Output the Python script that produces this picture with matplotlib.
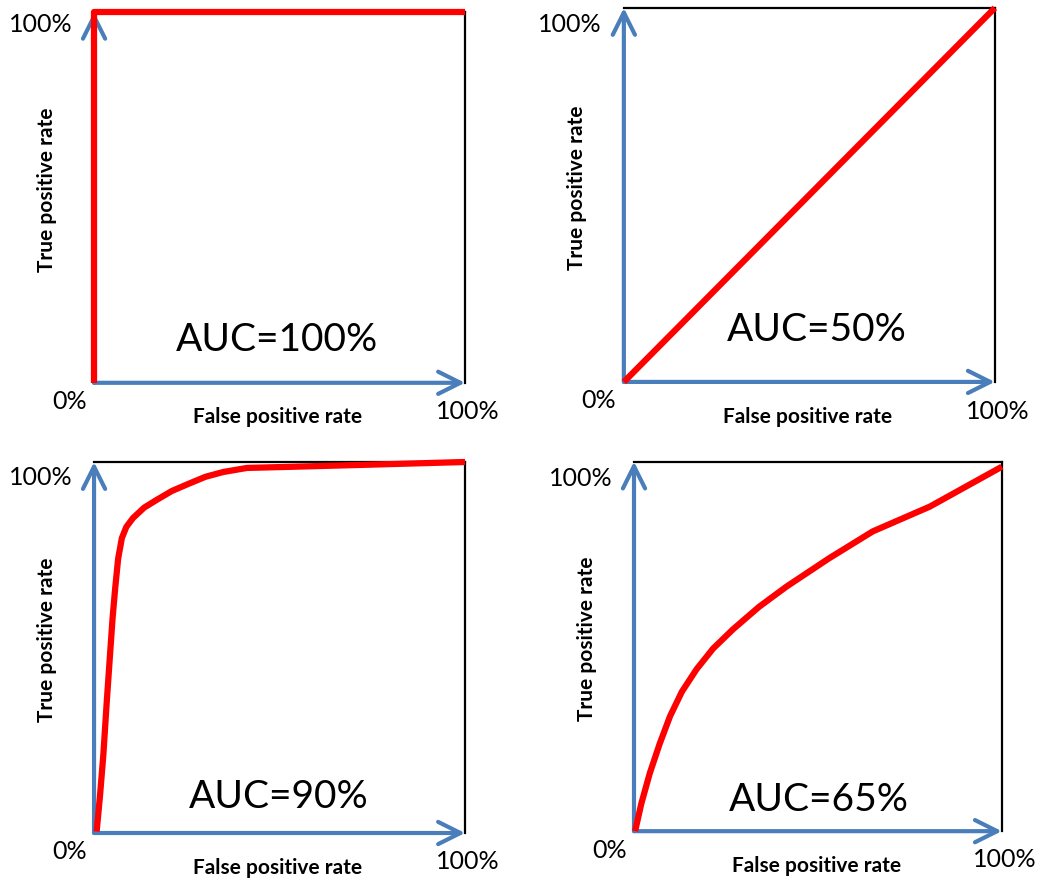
#import libraries
import matplotlib.pyplot as plt

plt.rcParams['font.family'] = ['Lato', 'DejaVu Sans']

# ROC curves (false positive rate, true positive rate)
fpr_100 = [0.0, 0.0, 1.0]
tpr_100 = [0.0, 1.0, 1.0]

fpr_50 = [0.0, 1.0]
tpr_50 = [0.0, 1.0]

fpr_90 = [0.007, 0.016, 0.025, 0.034, 0.043, 0.050, 0.057, 0.065, 0.075, 0.087, 0.105, 0.135,
          0.169, 0.210, 0.259, 0.300, 0.348, 0.412, 0.528, 0.750, 1.0]
tpr_90 = [0.004, 0.100, 0.210, 0.350, 0.480, 0.580, 0.660, 0.740, 0.795, 0.825, 0.849, 0.877,
          0.898, 0.922, 0.943, 0.960, 0.973, 0.984, 0.987, 0.993, 1.0]

fpr_65 = [0.003, 0.020, 0.043, 0.070, 0.098, 0.130, 0.170, 0.215, 0.269, 0.340, 0.415, 0.530,
          0.649, 0.804, 1.0]
tpr_65 = [0.0, 0.075, 0.157, 0.237, 0.311, 0.377, 0.438, 0.494, 0.546, 0.607, 0.662, 0.738,
          0.811, 0.878, 0.986]

auc_labels = ['AUC=100%', 'AUC=50%', 'AUC=90%', 'AUC=65%']
x_label = 'False positive rate'
y_label = 'True positive rate'
low_tick = '0%'
high_tick = '100%'

blue = '#4a7ebb'
red = '#ff0000'

fig = plt.figure(figsize=(10.45, 8.8), dpi=100)

# axes boxes in figure fractions [left, bottom, width, height]
boxes = [[0.090, 0.565, 0.355, 0.4216],
         [0.597, 0.566, 0.355, 0.425],
         [0.090, 0.0534, 0.355, 0.4216],
         [0.6067, 0.0555, 0.352, 0.420]]
curves = [(fpr_100, tpr_100), (fpr_50, tpr_50), (fpr_90, tpr_90), (fpr_65, tpr_65)]
auc_pos = [(0.493, 0.116), (0.52, 0.139), (0.499, 0.097), (0.503, 0.084)]
top_y = [0.965, 0.955, 0.957, 0.955]

for i in range(4):
    ax = fig.add_axes(boxes[i])
    ax.set_xlim(0, 1)
    ax.set_ylim(0, 1)
    ax.set_xticks([])
    ax.set_yticks([])
    for s in ['left', 'bottom']:
        ax.spines[s].set_visible(False)
    for s in ['top', 'right']:
        ax.spines[s].set_linewidth(1.6)
        ax.spines[s].set_color('black')

    # blue axis arrows
    arrow = dict(arrowstyle='->,head_length=1,head_width=0.5', mutation_scale=16,
                 lw=3, color=blue, shrinkA=0, shrinkB=0)
    ax.annotate('', xy=(1, 0), xytext=(0, 0), xycoords='axes fraction',
                arrowprops=arrow, annotation_clip=False)
    ax.annotate('', xy=(0, 1), xytext=(0, 0), xycoords='axes fraction',
                arrowprops=arrow, annotation_clip=False)

    # red roc curve
    x, y = curves[i]
    line, = ax.plot(x, y, color=red, lw=4.5, solid_capstyle='butt',
                    solid_joinstyle='round', zorder=3)
    line.set_clip_on(False)

    # texts
    ax.text(-0.059, top_y[i], high_tick, transform=ax.transAxes, ha='right', va='center', fontsize=18)
    ax.text(-0.067, -0.051, low_tick, transform=ax.transAxes, ha='center', va='center', fontsize=18)
    ax.text(1.008, -0.078, high_tick, transform=ax.transAxes, ha='center', va='center', fontsize=18)
    ax.text(0.495, -0.093, x_label, transform=ax.transAxes, ha='center', va='center',
            fontsize=15, fontweight='bold')
    ax.text(-0.127, 0.52, y_label, transform=ax.transAxes, ha='center', va='center',
            fontsize=15, fontweight='bold', rotation=90)
    ax.text(auc_pos[i][0], auc_pos[i][1], auc_labels[i], transform=ax.transAxes,
            ha='center', va='center', fontsize=28)

plt.savefig('out.png', dpi=100)
